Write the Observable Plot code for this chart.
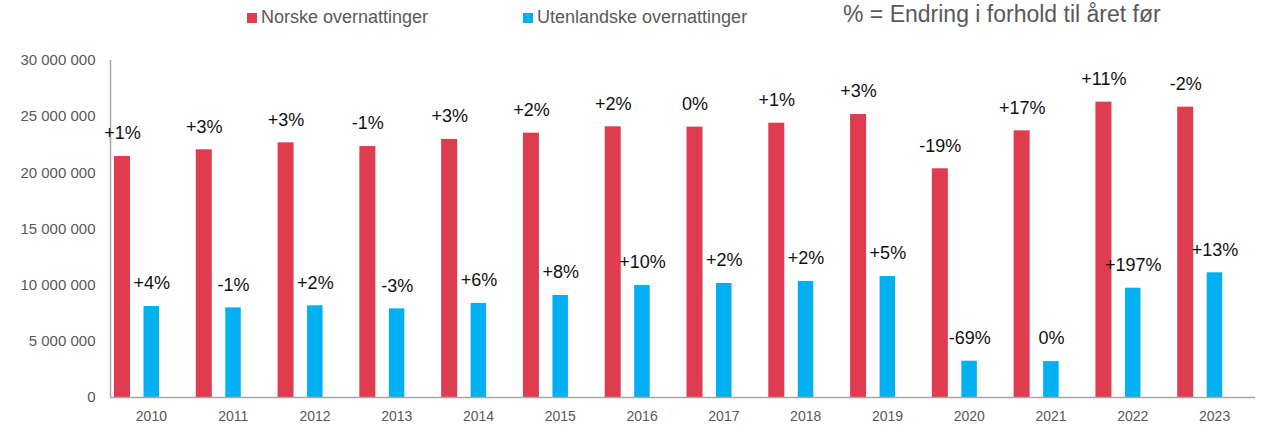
<!DOCTYPE html>
<html>
<head>
<meta charset="utf-8">
<script src="https://cdn.jsdelivr.net/npm/d3@7"></script>
<script src="https://cdn.jsdelivr.net/npm/@observablehq/plot@0.6"></script>
<style>
  html, body { margin: 0; padding: 0; background: #fff; }
  #legend { position: relative; width: 1268px; height: 40px; font-family: "Liberation Sans", Arial, sans-serif; color: #595959; }
  #legend .item { position: absolute; top: 7px; font-size: 18px; line-height: 20px; white-space: nowrap; }
  #legend .sw { display: inline-block; width: 10px; height: 10px; margin-right: 4px; vertical-align: 0px; }
  #legend .note { position: absolute; top: 2px; left: 843px; font-size: 23px; line-height: 24px; white-space: nowrap; }
</style>
</head>
<body>
<div id="legend"></div>
<div id="chart"></div>
<script>
const years = ["2010","2011","2012","2013","2014","2015","2016","2017","2018","2019","2020","2021","2022","2023"];
const norske = [21.45e6, 22.05e6, 22.67e6, 22.34e6, 22.97e6, 23.53e6, 24.10e6, 24.07e6, 24.42e6, 25.19e6, 20.36e6, 23.74e6, 26.29e6, 25.85e6];
const utenlandske = [8.10e6, 7.98e6, 8.16e6, 7.89e6, 8.37e6, 9.08e6, 9.97e6, 10.15e6, 10.33e6, 10.77e6, 3.23e6, 3.20e6, 9.73e6, 11.10e6];
const norskeLabels = ["+1%","+3%","+3%","-1%","+3%","+2%","+2%","0%","+1%","+3%","-19%","+17%","+11%","-2%"];
const utenlandskeLabels = ["+4%","-1%","+2%","-3%","+6%","+8%","+10%","+2%","+2%","+5%","-69%","0%","+197%","+13%"];
const yTicks = [0, 5e6, 10e6, 15e6, 20e6, 25e6, 30e6];
const seriesNames = ["Norske overnattinger", "Utenlandske overnattinger"];
const noteText = "% = Endring i forhold til året før";

const RED = "#E03C50", BLUE = "#00B0F0";

// legend
const legend = document.getElementById("legend");
legend.innerHTML =
  `<div class="item" style="left:247px"><span class="sw" style="background:${RED}"></span>${seriesNames[0]}</div>` +
  `<div class="item" style="left:523px"><span class="sw" style="background:${BLUE}"></span>${seriesNames[1]}</div>` +
  `<div class="note">${noteText}</div>`;

const W = 1268, ML = 110, MR = 13;
const bw = (W - ML - MR) / years.length;

const dataN = years.map((y, i) => ({year: y, value: norske[i], label: norskeLabels[i]}));
const dataU = years.map((y, i) => ({year: y, value: utenlandske[i], label: utenlandskeLabels[i]}));

const fmt = d => d3.format(",")(d).replace(/,/g, " ");

const chart = Plot.plot({
  width: W,
  height: 385,
  marginTop: 20,
  marginBottom: 28,
  marginLeft: ML,
  marginRight: MR,
  style: {fontFamily: "Liberation Sans, Arial, sans-serif", background: "#fff"},
  x: {type: "band", domain: years, padding: 0, round: false, label: null},
  y: {domain: [0, 30e6], label: null},
  marks: [
    Plot.barY(dataN, {x: "year", y: "value", fill: RED, insetLeft: 4, insetRight: bw - 20}),
    Plot.barY(dataU, {x: "year", y: "value", fill: BLUE, insetLeft: 33.5, insetRight: bw - 49}),
    Plot.ruleY([0], {stroke: "#a6a6a6", strokeWidth: 1.5}),
    Plot.ruleX([years[0]], {dx: -bw / 2, y1: 0, y2: 30e6, stroke: "#a6a6a6", strokeWidth: 1.5}),
    Plot.text(dataN, {x: "year", y: "value", text: "label", dx: 12 - bw / 2, dy: -23, lineAnchor: "middle", fontSize: 18, fill: "#111"}),
    Plot.text(dataU, {x: "year", y: "value", text: "label", dx: 41.3 - bw / 2, dy: -23, lineAnchor: "middle", fontSize: 18, fill: "#111"}),
    Plot.axisX({tickSize: 0, tickPadding: 14, fontSize: 14, fill: "#595959", label: null}),
    Plot.axisY({ticks: yTicks, tickFormat: fmt, tickSize: 0, tickPadding: 15, fontSize: 15, fill: "#595959", label: null})
  ]
});
document.getElementById("chart").appendChild(chart);
</script>
</body>
</html>
